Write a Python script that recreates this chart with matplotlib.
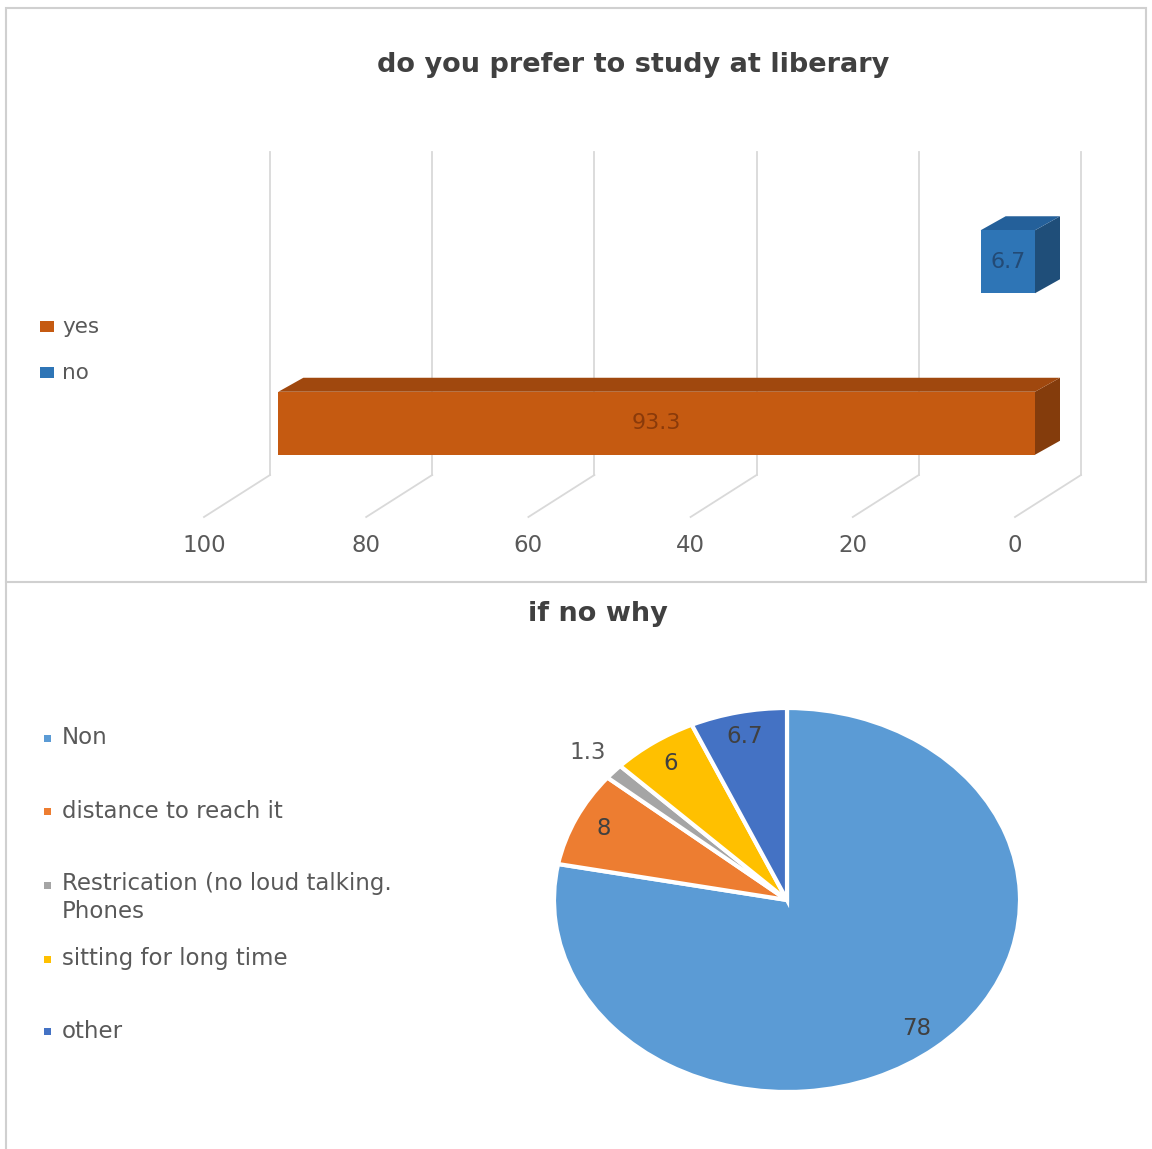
import matplotlib
matplotlib.use("Agg")
import matplotlib.pyplot as plt
from matplotlib.patches import Polygon, Rectangle
from matplotlib.lines import Line2D
from matplotlib.transforms import IdentityTransform
import numpy as np

plt.rcParams['font.family'] = ['DejaVu Sans']

# ---------------- data ----------------
bar_title = "do you prefer to study at liberary"
bar_categories = ["yes", "no"]
bar_values = [93.3, 6.7]
bar_colors = ["#C55A11", "#2E75B6"]
bar_top_colors = ["#A0480E", "#24609A"]
bar_side_colors = ["#843C0C", "#1F4E79"]
bar_ticks = [100, 80, 60, 40, 20, 0]

pie_title = "if no why"
pie_labels = ["Non", "distance to reach it",
              "Restrication (no loud talking.\nPhones",
              "sitting for long time", "other"]
pie_values = [78, 8, 1.3, 6, 6.7]
pie_value_labels = ["78", "8", "1.3", "6", "6.7"]
pie_colors = ["#5B9BD5", "#ED7D31", "#A5A5A5", "#FFC000", "#4472C4"]

# ---------------- figure ----------------
W, H = 1152, 1149
fig = plt.figure(figsize=(W / 100, H / 100), dpi=100)
fig.patch.set_facecolor("white")


def fx(px):
    return px / W


def fy(py):
    return 1 - py / H


TXT = "#595959"
DARK = "#404040"
GRID = "#D9D9D9"

# panel borders
fig.add_artist(Rectangle((fx(6), fy(582)), (1146 - 6) / W, (582 - 8) / H,
                         transform=fig.transFigure, fill=False,
                         edgecolor="#D0D0D0", lw=1.5))
fig.add_artist(Line2D([fx(6), fx(6)], [fy(582), 0], transform=fig.transFigure,
                      color="#D0D0D0", lw=1.5))

# ---------------- top: pseudo-3D bar chart ----------------
ax = fig.add_axes([fx(270), fy(475), (1081 - 270) / W, (475 - 152) / H])
ax.set_xlim(100, 0)
ax.set_ylim(-0.5, 1.5)
ax.axis("off")

FULL = np.array([-66.0, -42.0])   # depth of the floor (display px)
FRONT = np.array([-46.0, -29.0])  # front face of bars
BACK = np.array([-21.0, -15.0])   # back face of bars
ident = IdentityTransform()


def disp(x, y, off=(0, 0)):
    return ax.transData.transform((x, y)) + np.asarray(off)


for v in bar_ticks:
    ax.plot([v, v], [-0.5, 1.5], color=GRID, lw=1.3, clip_on=False)
    p0 = disp(v, -0.5)
    p1 = p0 + FULL
    ax.add_line(Line2D([p0[0], p1[0]], [p0[1], p1[1]], transform=ident,
                       color=GRID, lw=1.3, clip_on=False))
    pl = p0 + FULL + np.array([0, -29])
    ax.text(pl[0], pl[1], str(v), transform=ident, ha="center", va="center",
            fontsize=16.5, color=TXT)

bh = 0.39
for i, (val, c, ct, cs) in enumerate(zip(bar_values, bar_colors,
                                         bar_top_colors, bar_side_colors)):
    y0, y1 = i - bh / 2, i + bh / 2
    ftl, ftr = disp(val, y1, FRONT), disp(0, y1, FRONT)
    fbl, fbr = disp(val, y0, FRONT), disp(0, y0, FRONT)
    btl, btr = disp(val, y1, BACK), disp(0, y1, BACK)
    bbr = disp(0, y0, BACK)
    side = Polygon([ftr, fbr, bbr, btr], closed=True, transform=ident,
                   facecolor=cs, edgecolor="none", clip_on=False, zorder=3)
    top = Polygon([ftl, ftr, btr, btl], closed=True, transform=ident,
                  facecolor=ct, edgecolor="none", clip_on=False, zorder=3)
    front = Polygon([fbl, fbr, ftr, ftl], closed=True, transform=ident,
                    facecolor=c, edgecolor="none", clip_on=False, zorder=4)
    for p in (side, top, front):
        ax.add_patch(p)
    pc = disp(val / 2, i, FRONT)
    ax.text(pc[0], pc[1], f"{val}", transform=ident, ha="center", va="center",
            fontsize=16, color="#234a75" if i else "#8a3a0a", zorder=5)

fig.text(fx(633), fy(65), bar_title, ha="center", va="center",
         fontsize=19.5, fontweight="bold", color=DARK)

# top legend
leg_y = [327, 373]
for cat, c, yy in zip(bar_categories, bar_colors, leg_y):
    fig.add_artist(Rectangle((fx(40), fy(yy + 5)), 14 / W, 11 / H,
                             transform=fig.transFigure, facecolor=c,
                             edgecolor="none"))
    fig.text(fx(62), fy(yy), cat, ha="left", va="center", fontsize=15.5,
             color=TXT)

# ---------------- bottom: pie chart ----------------
cx, cy, rx, ry = 787, 900, 233, 192
ax2 = fig.add_axes([fx(cx - 1.25 * rx), fy(cy + 1.25 * ry),
                    2.5 * rx / W, 2.5 * ry / H])
wedges, _ = ax2.pie(pie_values, colors=pie_colors, startangle=90,
                    counterclock=False,
                    wedgeprops=dict(edgecolor="white", linewidth=3))
ax2.set_aspect("auto")
ax2.set_xlim(-1.25, 1.25)
ax2.set_ylim(-1.25, 1.25)
ax2.axis("off")

for w, lab, val in zip(wedges, pie_value_labels, pie_values):
    mid = np.deg2rad((w.theta1 + w.theta2) / 2)
    r = 1.15 if val < 3 else 0.87
    ax2.text(r * np.cos(mid), r * np.sin(mid), lab, ha="center", va="center",
             fontsize=16.5, color=DARK if val >= 3 else TXT)

fig.text(fx(598), fy(614), pie_title, ha="center", va="center",
         fontsize=19.5, fontweight="bold", color=DARK)

# bottom legend
pl_y = [738, 811, 885, 959, 1031]
for lab, c, yy in zip(pie_labels, pie_colors, pl_y):
    fig.add_artist(Rectangle((fx(44), fy(yy + 3.5)), 7 / W, 7 / H,
                             transform=fig.transFigure, facecolor=c,
                             edgecolor="none"))
    if "\n" in lab:
        fig.text(fx(62), fy(yy - 13), lab, ha="left", va="top", fontsize=16.5,
                 color=TXT, linespacing=1.25)
    else:
        fig.text(fx(62), fy(yy), lab, ha="left", va="center", fontsize=16.5,
                 color=TXT)

fig.savefig("out.png", dpi=100, facecolor="white")
